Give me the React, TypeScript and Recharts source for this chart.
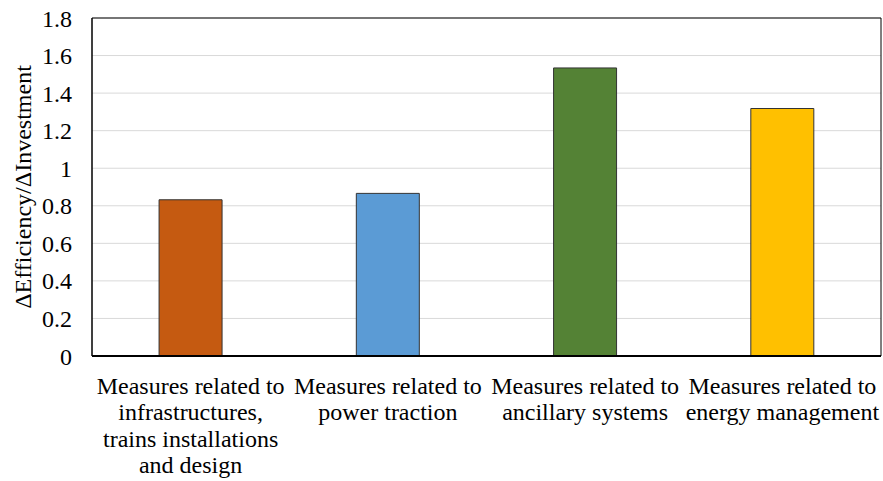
import { Bar, BarChart, CartesianGrid, Cell, ReferenceArea, XAxis, YAxis } from "recharts";

const categories = [
  "Measures related to\ninfrastructures,\ntrains installations\nand design",
  "Measures related to\npower traction",
  "Measures related to\nancillary systems",
  "Measures related to\nenergy management",
];
const ratios = [0.832, 0.866, 1.534, 1.318];
const barColors = ["#C55A11", "#5B9BD5", "#548235", "#FFC000"];
const yTicks = [0, 0.2, 0.4, 0.6, 0.8, 1, 1.2, 1.4, 1.6, 1.8];

const FONT = '"Liberation Serif", "Times New Roman", serif';
const textStyle = { fontFamily: FONT, fontSize: 24, fill: "#000" };

const data = categories.map((name, i) => ({ name, value: ratios[i] }));

// multi-line category label, one tspan per line
function CategoryTick({ x, y, payload }: any) {
  const lines = String(payload.value).split("\n");
  return (
    <text x={x} y={y} textAnchor="middle" style={textStyle}>
      {lines.map((line, i) => (
        <tspan key={i} x={x} dy={i === 0 ? 36 : 26.3}>
          {line}
        </tspan>
      ))}
    </text>
  );
}

export default function App() {
  return (
    <div style={{ position: "absolute", left: 0, top: 0, background: "#fff" }}>
      <BarChart
        width={883}
        height={481}
        data={data}
        margin={{ top: 18, right: 2, bottom: 0, left: 0 }}
        barCategoryGap="34%"
      >
        <CartesianGrid vertical={false} stroke="#d9d9d9" strokeWidth={1} />
        {/* plot area frame */}
        <ReferenceArea y1={0} y2={1.8} fill="none" stroke="#000" strokeWidth={1} ifOverflow="visible" />
        <XAxis
          dataKey="name"
          interval={0}
          tickLine={false}
          tickSize={0}
          height={125}
          axisLine={{ stroke: "#000", strokeWidth: 2 }}
          tick={<CategoryTick />}
        />
        <YAxis
          domain={[0, 1.8]}
          ticks={yTicks}
          width={92}
          tickLine={false}
          tickSize={0}
          tickMargin={20}
          axisLine={{ stroke: "#000", strokeWidth: 1 }}
          tick={{ fontFamily: FONT, fontSize: 24, fill: "#000" }}
          label={{
            value: "ΔEfficiency/ΔInvestment",
            angle: -90,
            position: "insideLeft",
            offset: 0,
            dx: 22,
            style: { ...textStyle, textAnchor: "middle" },
          }}
        />
        <Bar dataKey="value" stroke="#333" strokeWidth={1} isAnimationActive={false}>
          {data.map((_, i) => (
            <Cell key={i} fill={barColors[i]} />
          ))}
        </Bar>
      </BarChart>
    </div>
  );
}
